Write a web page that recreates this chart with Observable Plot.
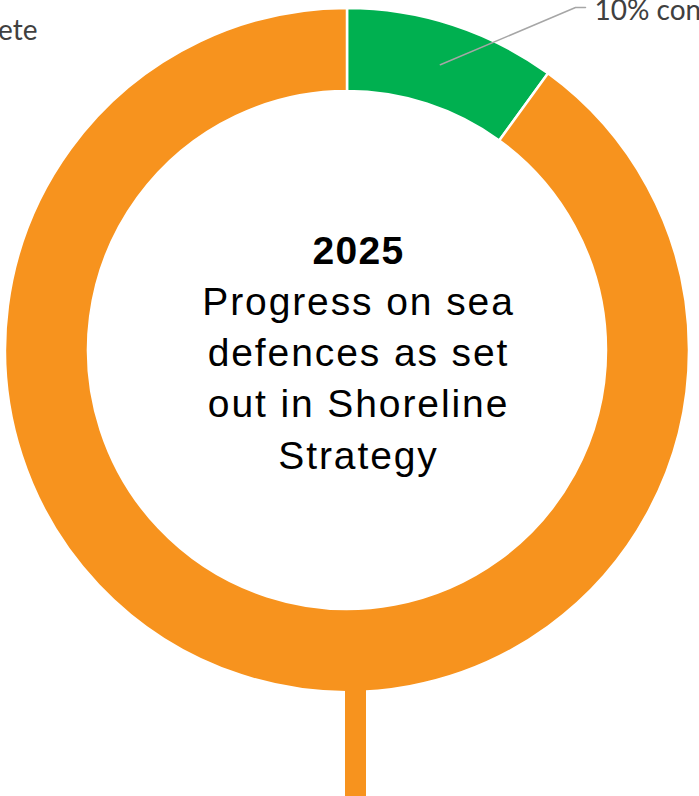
<!DOCTYPE html>
<html><head><meta charset="utf-8">
<script src="https://cdn.jsdelivr.net/npm/d3@7"></script>
<script src="https://cdn.jsdelivr.net/npm/@observablehq/plot@0.6"></script>
<style>
html,body{margin:0;padding:0;background:#fff;overflow:hidden}
#chart svg{display:block}
</style>
</head><body><div id="chart"></div>
<script>
// ---- data ----
const categories = ["Constructed", "Incomplete"];
const values = [10, 90];
const sliceLabels = ["10% construction complete", "90% incomplete"];
const sliceColors = ["#00B050", "#F7931E"];
const titleYear = "2025";
const titleLines = ["Progress on sea", "defences as set", "out in Shoreline", "Strategy"];

// ---- layout ----
const W = 699, H = 796;
const cx = 347, cy = 350, R = 342, R0 = 259;

const table = categories.map((c, i) => ({category: c, value: values[i], label: sliceLabels[i], color: sliceColors[i]}));
const slices = d3.pie().sort(null).value(d => d.value)(table);
const arcGen = d3.arc().innerRadius(R0).outerRadius(R);
const centroidGen = d3.arc().innerRadius((R + R0) / 2).outerRadius((R + R0) / 2);

// label anchors (layout)
const labelLayout = [
  {x: 594, y: 11, elbow: [[575, 7], [585, 7]], leader: true},
  {x: 37, y: 31, elbow: null, leader: false}
];
const labelData = slices.map((s, i) => {
  const [ox, oy] = centroidGen.centroid(s);
  return {...labelLayout[i], text: s.data.label, cx: cx + ox, cy: cy + oy};
});
const leaderPts = labelData.filter(d => d.leader).flatMap((d, k) =>
  [[d.cx, d.cy], ...d.elbow].map(([x, y]) => ({x, y, k})));

const titleData = [{t: titleYear, bold: true}, ...titleLines.map(t => ({t, bold: false}))];
const textX = 358, firstBaseline = 263, lineStep = 51.3;
const titleRows = titleData.map((d, i) => ({...d, y: firstBaseline + i * lineStep}));

function donutMark(index, scales) {
  const g = d3.create("svg:g");
  g.selectAll("path").data(slices).join("path")
    .attr("transform", `translate(${scales.x(cx)},${scales.y(cy)})`)
    .attr("d", arcGen)
    .attr("fill", d => d.data.color)
    .attr("stroke", "#fff")
    .attr("stroke-width", 2.5)
    .attr("stroke-linejoin", "miter");
  // stub of the neighbouring orange bar below the ring
  g.append("rect")
    .attr("x", scales.x(cx - 2)).attr("width", 21)
    .attr("y", scales.y(cy + R - 4)).attr("height", H - (cy + R - 4))
    .attr("fill", sliceColors[1]);
  return g.node();
}

const labelFont = "Lato, 'Open Sans', sans-serif";
const titleFont = "'Liberation Sans', Arial, sans-serif";

const chart = Plot.plot({
  width: W, height: H,
  margin: 0,
  style: {background: "#fff", overflow: "hidden"},
  x: {domain: [0, W], range: [0, W], axis: null},
  y: {domain: [0, H], range: [0, H], axis: null},
  marks: [
    donutMark,
    Plot.line(leaderPts, {x: "x", y: "y", z: "k", stroke: "#A6A6A6", strokeWidth: 1.5, curve: "linear"}),
    Plot.text(labelData.filter(d => d.leader), {x: "x", y: "y", text: "text", textAnchor: "start",
      fill: "#404040", fontSize: 28, fontFamily: labelFont}),
    Plot.text(labelData.filter(d => !d.leader), {x: "x", y: "y", text: "text", textAnchor: "end",
      fill: "#404040", fontSize: 28, fontFamily: labelFont}),
    Plot.text(titleRows.filter(d => d.bold),
      {x: () => textX, y: "y", text: "t", lineAnchor: "bottom", fill: "#000",
       fontSize: 39, fontWeight: "bold", fontFamily: titleFont}),
    Plot.text(titleRows.filter(d => !d.bold),
      {x: () => textX, y: "y", text: "t", lineAnchor: "bottom", fill: "#000",
       fontSize: 39, fontFamily: titleFont})
  ]
});
// slightly wider tracking, as in the reference
d3.select(chart).selectAll("text")
  .filter(function() { return titleLines.includes(this.textContent); })
  .style("letter-spacing", "1.9px");
d3.select(chart).selectAll("text")
  .filter(function() { return this.textContent === titleYear; })
  .style("letter-spacing", "1.3px");
document.getElementById("chart").append(chart);
</script>
</body></html>
